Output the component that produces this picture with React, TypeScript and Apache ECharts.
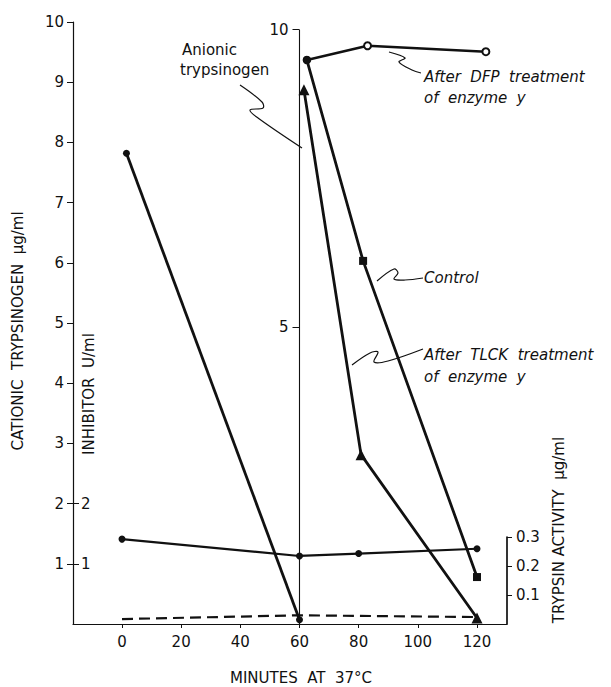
import React, { useEffect, useRef } from "react";
import * as echarts from "echarts";

// ---- data ----
const minutesTicks = [0, 20, 40, 60, 80, 100, 120];
const cationicTicks = [1, 2, 3, 4, 5, 6, 7, 8, 9, 10];
const inhibitorTicks = [1, 2];
const anionicTicks = [5, 10];
const trypsinTicks = [0.1, 0.2, 0.3];

const cationic = [[1.5, 7.82], [60, 0.07]];
const inhibitor = [[0, 1.41], [60, 1.13], [80, 1.17], [120, 1.25]];
const trypsinActivity = [[0, 0.017], [60, 0.03], [120, 0.024]];
const anionicDFP = [[62.5, 9.49], [83, 9.73], [123, 9.63]];
const anionicControl = [[62.5, 9.49], [81.5, 6.11], [120, 0.79]];
const anionicTLCK = [[61.5, 8.99], [80.8, 2.85], [120, 0.1]];

const X_MIN = -16.56;
const X_MAX = 130.14;
const ANIONIC_AXIS_AT = 60;
const ANIONIC_AXIS_TOP = 10;
const INK = "#111";
const FONT = "DejaVu Sans";

export default function App() {
  const ref = useRef<HTMLDivElement>(null);
  useEffect(() => {
    if (!ref.current) return;
    const chart = echarts.init(ref.current, undefined, { renderer: "svg" });
    const lbl = { color: INK, fontFamily: FONT, fontSize: 15 };
    const txt = (text: string, x: number, y: number, extra: any = {}) => ({
      type: "text",
      x,
      y,
      rotation: extra.rotation || 0,
      style: {
        text,
        fill: INK,
        fontFamily: FONT,
        fontSize: 15,
        fontStyle: extra.italic ? "italic" : "normal",
        textAlign: extra.align || "left",
        textVerticalAlign: "middle",
      },
    });
    const leader = (points: number[][]) => ({
      type: "polyline",
      shape: { points, smooth: 0.35 },
      style: { stroke: INK, lineWidth: 1.2, fill: "none" },
    });
    chart.setOption({
      animation: false,
      backgroundColor: "#fff",
      grid: [
        { left: 73, right: 104, top: 22, bottom: 63 },
        { left: 73, right: 104, top: 537, bottom: 63 },
      ],
      xAxis: [
        {
          type: "value",
          gridIndex: 0,
          min: X_MIN,
          max: X_MAX,
          splitLine: { show: false },
          axisLine: { show: true, onZero: false, lineStyle: { color: INK, width: 1.2 } },
          axisTick: { show: true, length: 4, customValues: minutesTicks, lineStyle: { color: INK } },
          axisLabel: { ...lbl, margin: 10, customValues: minutesTicks },
        },
        {
          type: "value",
          gridIndex: 1,
          min: X_MIN,
          max: X_MAX,
          show: false,
        },
      ],
      yAxis: [
        {
          type: "value",
          gridIndex: 0,
          position: "left",
          min: 0,
          max: 10,
          splitLine: { show: false },
          axisLine: { show: true, onZero: false, lineStyle: { color: INK, width: 1.2 } },
          axisTick: { show: true, length: 6, customValues: cationicTicks, lineStyle: { color: INK } },
          axisLabel: { ...lbl, margin: 9, customValues: cationicTicks },
        },
        {
          type: "value",
          gridIndex: 0,
          position: "left",
          min: 0,
          max: 10,
          splitLine: { show: false },
          axisLine: { show: false, onZero: false },
          axisTick: { show: true, inside: true, length: 6, customValues: inhibitorTicks, lineStyle: { color: INK } },
          axisLabel: { ...lbl, inside: true, margin: 8, customValues: inhibitorTicks },
        },
        {
          type: "value",
          gridIndex: 0,
          position: "left",
          offset: -226.5,
          min: 0,
          max: 10.13,
          splitLine: { show: false },
          axisLine: { show: false, onZero: false },
          axisTick: { show: true, length: 7, customValues: anionicTicks, lineStyle: { color: INK } },
          axisLabel: { ...lbl, margin: 11, customValues: anionicTicks },
        },
        {
          type: "value",
          gridIndex: 1,
          position: "right",
          min: 0,
          max: 0.3,
          splitLine: { show: false },
          axisLine: { show: true, onZero: false, lineStyle: { color: "#000", width: 1.6 } },
          axisTick: { show: true, length: 5, customValues: trypsinTicks, lineStyle: { color: INK } },
          axisLabel: { ...lbl, margin: 9, customValues: trypsinTicks },
        },
      ],
      series: [
        {
          name: "Anionic axis",
          type: "line",
          xAxisIndex: 0,
          yAxisIndex: 2,
          data: [[ANIONIC_AXIS_AT, 0], [ANIONIC_AXIS_AT, ANIONIC_AXIS_TOP]],
          symbol: "none",
          silent: true,
          clip: false,
          lineStyle: { color: INK, width: 1.1 },
          z: 1,
        },
        {
          name: "Cationic trypsinogen",
          type: "line",
          xAxisIndex: 0,
          yAxisIndex: 0,
          data: cationic,
          symbol: "circle",
          symbolSize: 7,
          itemStyle: { color: INK },
          lineStyle: { color: INK, width: 2.8 },
        },
        {
          name: "Inhibitor",
          type: "line",
          xAxisIndex: 0,
          yAxisIndex: 1,
          data: inhibitor,
          symbol: "circle",
          symbolSize: 7,
          itemStyle: { color: INK },
          lineStyle: { color: INK, width: 2.2 },
        },
        {
          name: "Trypsin activity",
          type: "line",
          xAxisIndex: 1,
          yAxisIndex: 3,
          data: trypsinActivity,
          symbol: "none",
          clip: false,
          lineStyle: { color: INK, width: 2.2, type: [11, 6] },
        },
        {
          name: "After DFP treatment of enzyme y",
          type: "line",
          xAxisIndex: 0,
          yAxisIndex: 2,
          clip: false,
          data: anionicDFP.map((p, i) => ({ value: p, symbol: i === 0 ? "circle" : "emptyCircle" })),
          symbolSize: 7,
          itemStyle: { color: INK, borderColor: INK, borderWidth: 1.5 },
          lineStyle: { color: INK, width: 2.4 },
        },
        {
          name: "Control",
          type: "line",
          xAxisIndex: 0,
          yAxisIndex: 2,
          data: anionicControl.map((p, i) => ({ value: p, symbol: i === 0 ? "circle" : "rect" })),
          symbolSize: 8,
          itemStyle: { color: INK },
          lineStyle: { color: INK, width: 2.8 },
        },
        {
          name: "After TLCK treatment of enzyme y",
          type: "line",
          xAxisIndex: 0,
          yAxisIndex: 2,
          data: anionicTLCK,
          symbol: "triangle",
          symbolSize: 11,
          itemStyle: { color: INK },
          lineStyle: { color: INK, width: 2.8 },
        },
      ],
      graphic: [
        txt("CATIONIC  TRYPSINOGEN  µg/ml", 18, 331, { rotation: Math.PI / 2, align: "center" }),
        txt("INHIBITOR  U/ml", 89, 394, { rotation: Math.PI / 2, align: "center" }),
        txt("TRYPSIN ACTIVITY  µg/ml", 559, 530, { rotation: Math.PI / 2, align: "center" }),
        txt("MINUTES  AT  37°C", 301, 678, { align: "center" }),
        txt("Anionic", 182, 50),
        txt("trypsinogen", 180, 70),
        txt("After  DFP  treatment", 424, 77, { italic: true }),
        txt("of  enzyme  y", 424, 98, { italic: true }),
        txt("Control", 424, 278, { italic: true }),
        txt("After  TLCK  treatment", 424, 355, { italic: true }),
        txt("of  enzyme  y", 424, 377, { italic: true }),
        leader([[240, 85], [262, 102], [263, 108], [250, 110], [258, 118], [302, 148]]),
        leader([[389, 52], [405, 58], [399, 62], [412, 70], [421, 73]]),
        leader([[377, 281], [394, 269], [398, 273], [394, 279], [405, 280], [423, 278]]),
        leader([[352, 365], [370, 353], [378, 352], [374, 362], [388, 361], [423, 349]]),
      ],
    });
    return () => chart.dispose();
  }, []);
  return (
    <div
      ref={ref}
      style={{ position: "absolute", left: 0, top: 0, width: 611, height: 687, background: "#fff" }}
    />
  );
}
